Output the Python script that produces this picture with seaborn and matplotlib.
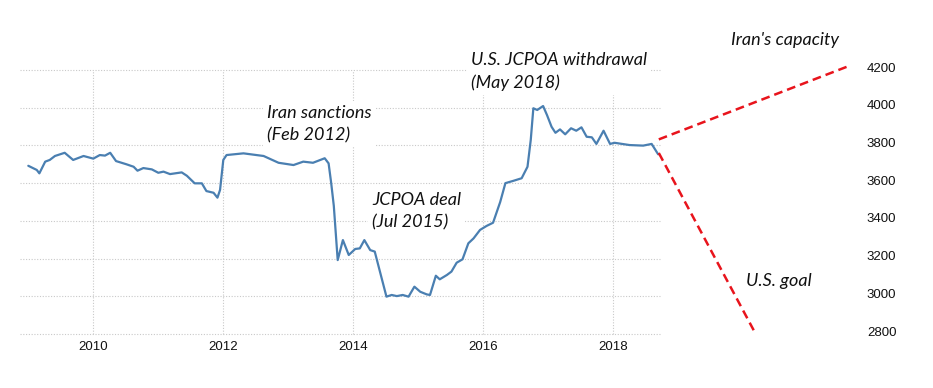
import matplotlib
matplotlib.use("Agg")
import matplotlib.pyplot as plt
import matplotlib.transforms as mtransforms
import seaborn as sns
import pandas as pd

# ---- data ----
years = [2009.00, 2009.13, 2009.17, 2009.26, 2009.33, 2009.41, 2009.56, 2009.69, 2009.85,
         2010.00, 2010.10, 2010.18, 2010.26, 2010.35, 2010.51, 2010.62, 2010.68, 2010.77, 2010.90,
         2011.00, 2011.08, 2011.18, 2011.36, 2011.44, 2011.56, 2011.67, 2011.74, 2011.85, 2011.91, 2011.95,
         2012.00, 2012.05, 2012.31, 2012.62, 2012.85,
         2013.08, 2013.23, 2013.38, 2013.56, 2013.62, 2013.66, 2013.70, 2013.76, 2013.84, 2013.93,
         2014.03, 2014.10, 2014.17, 2014.26, 2014.33, 2014.51, 2014.59, 2014.67, 2014.76, 2014.85, 2014.94,
         2015.03, 2015.13, 2015.18, 2015.27, 2015.33, 2015.44, 2015.51, 2015.59, 2015.68, 2015.77, 2015.85, 2015.95,
         2016.05, 2016.15, 2016.26, 2016.34, 2016.46, 2016.59, 2016.68, 2016.73, 2016.77, 2016.83, 2016.92, 2016.98,
         2017.05, 2017.11, 2017.18, 2017.26, 2017.35, 2017.43, 2017.51, 2017.59, 2017.67, 2017.74, 2017.85, 2017.95,
         2018.02, 2018.25, 2018.46, 2018.59, 2018.69]
production = [3692, 3670, 3652, 3714, 3723, 3744, 3761, 3723, 3744,
              3730, 3749, 3746, 3761, 3717, 3700, 3687, 3666, 3680, 3673,
              3655, 3661, 3648, 3657, 3639, 3599, 3599, 3558, 3549, 3523, 3564,
              3723, 3749, 3758, 3744, 3708,
              3696, 3714, 3708, 3732, 3705, 3600, 3480, 3192, 3298, 3219,
              3251, 3254, 3298, 3245, 3237, 2998, 3007, 3001, 3007, 2998, 3051,
              3024, 3010, 3007, 3109, 3090, 3113, 3131, 3178, 3196, 3281, 3307, 3352,
              3373, 3390, 3500, 3600, 3612, 3626, 3687, 3829, 3997, 3988, 4009, 3961,
              3899, 3867, 3885, 3859, 3891, 3878, 3896, 3846, 3843, 3808, 3878, 3808,
              3814, 3802, 3799, 3808, 3753]

capacity_x = [2018.70, 2021.63]
capacity_y = [3832, 4222]
goal_x = [2018.70, 2020.16]
goal_y = [3760, 2820]

y_ticks = [2800, 3000, 3200, 3400, 3600, 3800, 4000, 4200]
x_ticks = [2010, 2012, 2014, 2016, 2018]

annotations = [
    ("Iran sanctions\n(Feb 2012)", 267, 124),
    ("JCPOA deal\n(Jul 2015)", 372, 211),
    ("U.S. JCPOA withdrawal\n(May 2018)", 471, 71.5),
    ("Iran's capacity", 731, 40),
    ("U.S. goal", 746, 281),
]

# ---- figure ----
sns.set_style("white")
plt.rcParams['font.family'] = ['DejaVu Sans']
W, H = 933, 388
fig = plt.figure(figsize=(W / 100, H / 100), dpi=100)

left_px, right_px, top_px, bottom_px = 17, 860, 60, 334
ax = fig.add_axes([left_px / W, 1 - bottom_px / H, (right_px - left_px) / W, (bottom_px - top_px) / H])

px_per_year = 65.0
x2010_px = 93.3
xmin = 2010 + (left_px - x2010_px) / px_per_year
xmax = 2010 + (right_px - x2010_px) / px_per_year
units_per_px = 1400 / 264.0
ytop = 4200 + (70 - top_px) * units_per_px
ybot = 2800 - (bottom_px - 334) * units_per_px
ax.set_xlim(xmin, xmax)
ax.set_ylim(ybot, ytop)

grid_end = 2010 + (660 - x2010_px) / px_per_year
grid_start = 2010 + (20 - x2010_px) / px_per_year
grid_kw = dict(color="#c9c9c9", linewidth=0.8, linestyle=(0, (1, 1.5)), zorder=0, clip_on=False)
ax.hlines(y_ticks, grid_start, grid_end, **grid_kw)
ax.vlines(x_ticks, 2800, 4200, **grid_kw)

df = pd.DataFrame({"year": years, "production": production})
sns.lineplot(data=df, x="year", y="production", ax=ax, color="#4a7fb1", linewidth=1.6, zorder=3)

sns.lineplot(x=capacity_x, y=capacity_y, ax=ax, color="#e8141c", linewidth=1.8,
             linestyle=(0, (3.5, 2.0)), zorder=3, clip_on=False)
sns.lineplot(x=goal_x, y=goal_y, ax=ax, color="#e8141c", linewidth=1.8,
             linestyle=(0, (3.5, 2.0)), zorder=3, clip_on=False)

tick_font = ["Liberation Sans Narrow", "Liberation Sans", "DejaVu Sans"]
for s in ax.spines.values():
    s.set_visible(False)
ax.set_xlabel("")
ax.set_ylabel("")
ax.set_xticks(x_ticks)
ax.set_xticklabels([str(x) for x in x_ticks], fontsize=9.5, color="#111111", family=tick_font)
ax.set_yticks(y_ticks)
ax.set_yticklabels([str(y) for y in y_ticks], fontsize=9.5, color="#111111", family=tick_font)
ax.yaxis.tick_right()
ax.tick_params(axis="x", length=0, pad=5)
ax.tick_params(axis="y", length=0, pad=5)
shift = mtransforms.ScaledTranslation(0, 3 / 100, fig.dpi_scale_trans)
for lbl in ax.get_yticklabels():
    lbl.set_transform(lbl.get_transform() + shift)

for txt, xp, yp in annotations:
    fig.text(xp / W, 1 - yp / H, txt, fontsize=13, fontstyle="italic", family=["Lato", "DejaVu Sans"],
             ha="left", va="center", color="#111111", linespacing=1.45,
             bbox=dict(facecolor="white", edgecolor="none", pad=3))

fig.savefig("out.png", dpi=100, facecolor="white")
